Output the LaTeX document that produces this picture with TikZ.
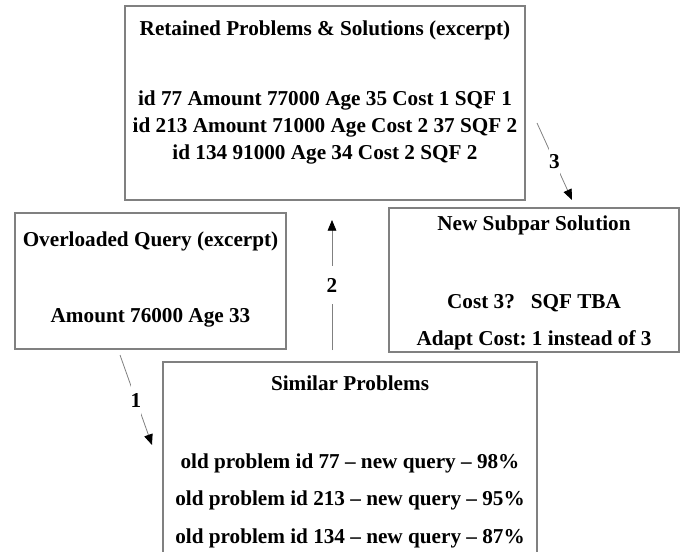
\documentclass[tikz,border=0pt]{standalone}
\usepackage{fontspec}
\setmainfont{Liberation Serif}
\usetikzlibrary{arrows.meta}
\definecolor{edgegray}{HTML}{808080}
\frenchspacing
\tikzset{
  box/.style={draw=edgegray, line width=0.8pt, inner sep=0pt},
  txt/.style={anchor=base, inner sep=0pt, font=\fontsize{15.9}{18}\selectfont\bfseries},
  conn/.style={draw=edgegray, line width=0.6pt, -{Triangle[length=8pt,width=6.5pt,black]}},
  num/.style={fill=white, inner sep=0pt, minimum width=8pt, minimum height=25pt, font=\fontsize{15.9}{18}\selectfont\bfseries}
}
\begin{document}
\frenchspacing
\begin{tikzpicture}[x=0.75pt,y=-0.75pt]
\useasboundingbox (0,0) rectangle (681,552);
\clip (0,0) rectangle (681,552);
% boxes
\node[box, minimum width=300pt, minimum height=145.5pt] (top) at (325,103) {};
\node[box, minimum width=203.25pt, minimum height=102pt] (query) at (150.5,281) {};
\node[box, minimum width=217.5pt, minimum height=108pt] (subpar) at (534,280) {};
\node[box, minimum width=280.5pt, minimum height=156pt] (sim) at (350,466) {};
% texts
\node[txt] (t0) at (325,36) {Retained Problems \& Solutions (excerpt)};
\node[txt] (t1) at (325,106) {id 77 Amount 77000 Age 35 Cost 1 SQF 1};
\node[txt] (t2) at (325,133) {id 213 Amount 71000 Age Cost 2 37 SQF 2};
\node[txt] (t3) at (325,160) {id 134 91000 Age 34 Cost 2 SQF 2};
\node[txt] (q0) at (150.5,247) {Overloaded Query (excerpt)};
\node[txt] (q1) at (150.5,322) {Amount 76000 Age 33};
\node[txt] (s0) at (534,231) {New Subpar Solution};
\node[txt] (s1) at (534,308) {Cost 3?\ \ \ SQF TBA};
\node[txt] (s2) at (534,345) {Adapt Cost: 1 instead of 3};
\node[txt] (p0) at (350,390) {Similar Problems};
\node[txt] (p1) at (350,468) {old problem id 77 -- new query -- 98\%};
\node[txt] (p2) at (350,505) {old problem id 213 -- new query -- 95\%};
\node[txt] (p3) at (350,543) {old problem id 134 -- new query -- 87\%};
% connectors
\coordinate (a1s) at (120,355);
\coordinate (a1e) at (152,445);
\coordinate (a2s) at (332,350);
\coordinate (a2e) at (332,220);
\coordinate (a3s) at (537,123);
\coordinate (a3e) at (572,200);
\draw[conn] (a1s) -- node[num] (n1) {1} (a1e);
\draw[conn] (a2s) -- node[num, minimum height=28pt] (n2) {2} (a2e);
\draw[conn] (a3s) -- node[num] (n3) {3} (a3e);
\end{tikzpicture}
\end{document}
